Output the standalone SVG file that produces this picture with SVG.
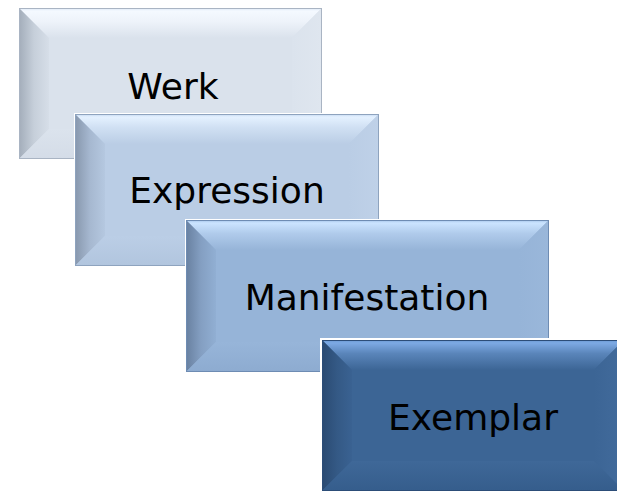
<svg xmlns="http://www.w3.org/2000/svg" width="617" height="492" viewBox="0 0 617 492">
<style>
.lbl{font-family:"DejaVu Sans","Verdana",sans-serif;font-size:36px;fill:#000;text-anchor:middle}
.halo{fill:#fff}
.edge{fill:none;stroke-width:1}
</style>
<defs>
<linearGradient id="t1" x1="0" y1="0" x2="0" y2="1"><stop offset="0" stop-color="#DCE7F5"/><stop offset="0.1" stop-color="#F4F9FF"/><stop offset="0.45" stop-color="#EEF3FA"/><stop offset="1" stop-color="#DAE2EC"/></linearGradient>
<linearGradient id="l1" x1="0" y1="0" x2="1" y2="0"><stop offset="0" stop-color="#A3ADBA"/><stop offset="0.5" stop-color="#C6CFDA"/><stop offset="1" stop-color="#D6DEE8"/></linearGradient>
<linearGradient id="r1" x1="0" y1="0" x2="1" y2="0"><stop offset="0" stop-color="#DBE3ED"/><stop offset="1" stop-color="#DFE6EF"/></linearGradient>
<linearGradient id="b1" x1="0" y1="0" x2="0" y2="1"><stop offset="0" stop-color="#DBE3ED"/><stop offset="1" stop-color="#D4DCE7"/></linearGradient>

<linearGradient id="t2" x1="0" y1="0" x2="0" y2="1"><stop offset="0" stop-color="#C3D7F0"/><stop offset="0.1" stop-color="#E4F1FF"/><stop offset="0.45" stop-color="#D0E0F3"/><stop offset="1" stop-color="#BACDE5"/></linearGradient>
<linearGradient id="l2" x1="0" y1="0" x2="1" y2="0"><stop offset="0" stop-color="#8797AD"/><stop offset="0.5" stop-color="#A6B8D0"/><stop offset="1" stop-color="#B5C8E0"/></linearGradient>
<linearGradient id="r2" x1="0" y1="0" x2="1" y2="0"><stop offset="0" stop-color="#BACDE5"/><stop offset="1" stop-color="#BFD1E8"/></linearGradient>
<linearGradient id="b2" x1="0" y1="0" x2="0" y2="1"><stop offset="0" stop-color="#BBCEE6"/><stop offset="1" stop-color="#B1C5DE"/></linearGradient>

<linearGradient id="t3" x1="0" y1="0" x2="0" y2="1"><stop offset="0" stop-color="#A4C3E8"/><stop offset="0.1" stop-color="#CBE4FF"/><stop offset="0.45" stop-color="#B0CBEB"/><stop offset="1" stop-color="#96B4D8"/></linearGradient>
<linearGradient id="l3" x1="0" y1="0" x2="1" y2="0"><stop offset="0" stop-color="#6880A0"/><stop offset="0.5" stop-color="#849FC2"/><stop offset="1" stop-color="#91AFD3"/></linearGradient>
<linearGradient id="r3" x1="0" y1="0" x2="1" y2="0"><stop offset="0" stop-color="#96B4D8"/><stop offset="1" stop-color="#9AB7DA"/></linearGradient>
<linearGradient id="b3" x1="0" y1="0" x2="0" y2="1"><stop offset="0" stop-color="#97B5D9"/><stop offset="1" stop-color="#8DABD0"/></linearGradient>

<linearGradient id="t4" x1="0" y1="0" x2="0" y2="1"><stop offset="0" stop-color="#6A98D2"/><stop offset="0.1" stop-color="#7DAAE4"/><stop offset="0.45" stop-color="#5A85BA"/><stop offset="1" stop-color="#3C6595"/></linearGradient>
<linearGradient id="l4" x1="0" y1="0" x2="1" y2="0"><stop offset="0" stop-color="#2A4A72"/><stop offset="0.5" stop-color="#345985"/><stop offset="1" stop-color="#3A6292"/></linearGradient>
<linearGradient id="r4" x1="0" y1="0" x2="1" y2="0"><stop offset="0" stop-color="#3C6595"/><stop offset="1" stop-color="#426B9C"/></linearGradient>
<linearGradient id="b4" x1="0" y1="0" x2="0" y2="1"><stop offset="0" stop-color="#3F6898"/><stop offset="1" stop-color="#355D8C"/></linearGradient>
</defs>

<g id="werk">
<rect class="halo" x="18" y="7" width="305" height="153"/>
<rect x="19" y="8" width="303" height="151" fill="#DAE2EC"/>
<polygon points="19,8 322,8 292,38 49,38" fill="url(#t1)"/>
<polygon points="19,8 49,38 49,129 19,159" fill="url(#l1)"/>
<polygon points="322,8 322,159 292,129 292,38" fill="url(#r1)"/>
<polygon points="19,159 49,129 292,129 322,159" fill="url(#b1)"/>
<rect class="edge" x="19.5" y="8.5" width="302" height="150" stroke="#A9B4C3"/>
<text class="lbl" x="173" y="99">Werk</text>
</g>

<g id="expression">
<rect class="halo" x="74" y="113" width="306" height="154"/>
<rect x="75" y="114" width="304" height="152" fill="#BACDE5"/>
<polygon points="75,114 379,114 349,144 105,144" fill="url(#t2)"/>
<polygon points="75,114 105,144 105,236 75,266" fill="url(#l2)"/>
<polygon points="379,114 379,266 349,236 349,144" fill="url(#r2)"/>
<polygon points="75,266 105,236 349,236 379,266" fill="url(#b2)"/>
<rect class="edge" x="75.5" y="114.5" width="303" height="151" stroke="#8EA3BE"/>
<text class="lbl" x="227" y="203">Expression</text>
</g>

<g id="manifestation">
<rect class="halo" x="185" y="219" width="365" height="154"/>
<rect x="186" y="220" width="363" height="152" fill="#96B4D8"/>
<polygon points="186,220 549,220 519,250 216,250" fill="url(#t3)"/>
<polygon points="186,220 216,250 216,342 186,372" fill="url(#l3)"/>
<polygon points="549,220 549,372 519,342 519,250" fill="url(#r3)"/>
<polygon points="186,372 216,342 519,342 549,372" fill="url(#b3)"/>
<rect class="edge" x="186.5" y="220.5" width="362" height="151" stroke="#6E8CB3"/>
<text class="lbl" x="367" y="310">Manifestation</text>
</g>

<g id="exemplar">
<rect class="halo" x="320" y="338" width="306" height="155"/>
<rect x="322" y="340" width="302" height="151" fill="#3C6595"/>
<polygon points="322,340 624,340 594,370 352,370" fill="url(#t4)"/>
<polygon points="322,340 352,370 352,461 322,491" fill="url(#l4)"/>
<polygon points="624,340 624,491 594,461 594,370" fill="url(#r4)"/>
<polygon points="322,491 352,461 594,461 624,491" fill="url(#b4)"/>
<rect class="edge" x="322.5" y="340.5" width="301" height="150" stroke="#2C4D78"/>
<text class="lbl" x="473" y="430">Exemplar</text>
</g>
</svg>
